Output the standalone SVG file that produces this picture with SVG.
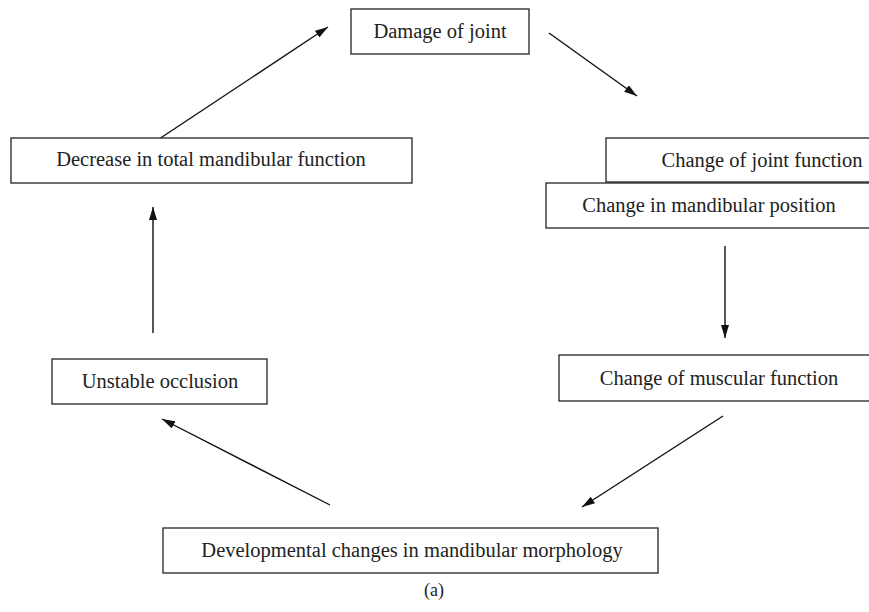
<svg xmlns="http://www.w3.org/2000/svg" width="869" height="612" viewBox="0 0 869 612">
<style>
.box{fill:#fff;stroke:#222;stroke-width:1.3}
.t{font-family:"Liberation Serif","DejaVu Serif",serif;font-size:20.5px;fill:#222;text-anchor:middle}
.c{stroke:#111;stroke-width:1.4;fill:none;marker-end:url(#ah)}
</style>
<defs>
<marker id="ah" viewBox="0 0 13 8" refX="13" refY="4" markerWidth="13" markerHeight="8" markerUnits="userSpaceOnUse" orient="auto">
<path d="M0,0 L13,4 L0,8 z" fill="#111"/>
</marker>
</defs>
<rect width="869" height="612" fill="#fff"/>
<g id="connectors">
<line class="c" x1="153" y1="143" x2="328" y2="27"/>
<line class="c" x1="549" y1="33" x2="637" y2="96"/>
<line class="c" x1="725" y1="246" x2="725" y2="338"/>
<line class="c" x1="723" y1="416" x2="582" y2="507"/>
<line class="c" x1="330" y1="505" x2="162" y2="419"/>
<line class="c" x1="153" y1="333" x2="153" y2="207"/>
</g>
<g id="damage"><rect class="box" x="351" y="9" width="178" height="45"/><text class="t" x="440" y="38">Damage of joint</text></g>
<g id="joint-function"><rect class="box" x="606" y="138" width="270" height="44"/><text class="t" x="762" y="167">Change of joint function</text></g>
<g id="mandibular-position"><rect class="box" x="546" y="183" width="330" height="45"/><text class="t" x="709" y="212">Change in mandibular position</text></g>
<g id="muscular"><rect class="box" x="559" y="355" width="317" height="46"/><text class="t" x="719" y="385">Change of muscular function</text></g>
<g id="developmental"><rect class="box" x="163" y="528" width="495" height="45"/><text class="t" x="412" y="557">Developmental changes in mandibular morphology</text></g>
<g id="unstable"><rect class="box" x="52" y="359" width="215" height="45"/><text class="t" x="160" y="388">Unstable occlusion</text></g>
<g id="decrease"><rect class="box" x="11" y="138" width="401" height="45"/><text class="t" x="211" y="166">Decrease in total mandibular function</text></g>
<text class="t" x="434" y="596" style="font-size:18px">(a)</text>
</svg>
